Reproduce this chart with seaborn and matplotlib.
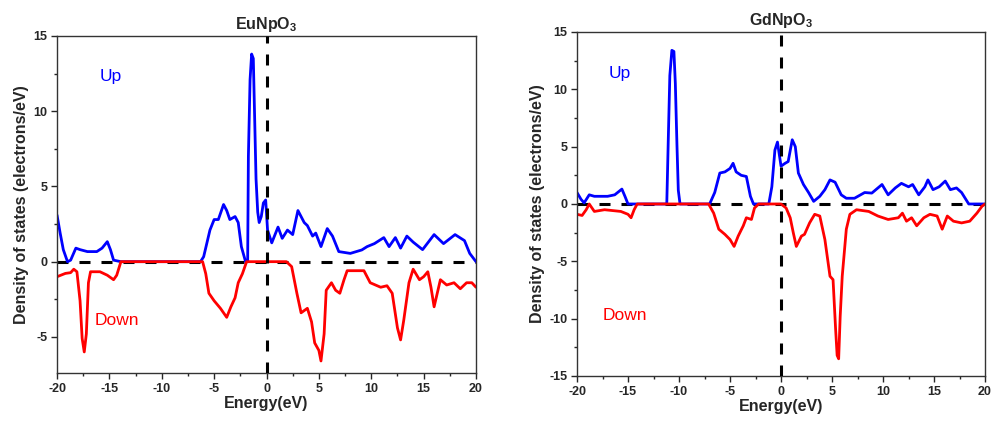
import matplotlib
matplotlib.use("Agg")
import matplotlib.pyplot as plt
import seaborn as sns
from matplotlib.ticker import MultipleLocator

# --- DATA ---
# EuNpO3, spin up
eu_up_e = [-20, -19.7, -19.4, -19.0, -18.7, -18.2, -17.8, -17.1, -16.2, -15.7, -15.2, -14.9, -14.6, -13.9,
           -6.3, -6.0, -5.4, -5.0, -4.6, -4.1, -3.8, -3.5, -3.0, -2.7, -2.4, -2.0, -1.8,
           -1.73, -1.57, -1.42, -1.26, -1.16, -1.0, -0.84, -0.7, -0.5, -0.3, -0.08, 0.1, 0.5,
           1.1, 1.5, 2.0, 2.5, 3.0, 3.6, 3.9, 4.4, 4.7, 5.2, 5.8, 6.3, 6.9, 8.0, 9.1, 9.6, 10.3,
           11.2, 11.7, 12.3, 12.8, 13.4, 14.0, 14.9, 16.0, 16.9, 18.0, 18.9, 19.4, 20.0]
eu_up = [3.1, 1.9, 0.8, 0.0, 0.1, 0.9, 0.8, 0.67, 0.67, 0.9, 1.33, 0.8, 0.1, 0.0,
         0.0, 0.33, 2.1, 2.8, 2.8, 3.8, 3.4, 2.8, 3.0, 2.6, 1.0, 0.0, 0.0,
         7.0, 12.1, 13.8, 13.5, 10.4, 5.5, 3.3, 2.6, 3.0, 3.9, 4.1, 2.1, 1.25,
         2.3, 1.55, 2.1, 1.8, 3.4, 2.6, 2.4, 1.7, 1.9, 1.0, 2.2, 1.7, 0.67, 0.55, 0.78, 1.0, 1.2,
         1.6, 1.0, 1.6, 0.9, 1.7, 1.3, 0.8, 1.8, 1.2, 1.8, 1.4, 0.55, 0.0]

# EuNpO3, spin down
eu_dn_e = [-20, -19.2, -18.7, -18.4, -18.1, -17.8, -17.6, -17.4, -17.2, -17.0, -16.8, -15.9, -15.2,
           -14.6, -14.3, -13.9, -6.1, -5.8, -5.5, -5.0, -4.4, -3.8, -3.4, -3.0, -2.7, -2.3, -1.9,
           1.9, 2.4, 2.9, 3.3, 3.9, 4.3, 4.6, 5.0, 5.2, 5.5, 5.7, 6.2, 6.6, 7.0, 7.4, 7.7, 9.3,
           9.9, 10.9, 11.5, 12.0, 12.5, 12.8, 13.1, 13.6, 14.0, 14.6, 15.0, 15.4, 15.7, 16.0,
           16.3, 16.6, 17.2, 17.9, 18.5, 19.1, 19.6, 20.0]
eu_dn = [-1.0, -0.78, -0.73, -0.5, -0.67, -2.6, -5.1, -6.0, -4.8, -1.4, -0.67, -0.67, -0.9,
         -1.2, -0.9, 0.0, 0.0, -0.8, -2.1, -2.6, -3.1, -3.7, -3.0, -2.4, -1.4, -0.8, 0.0,
         0.0, -0.33, -2.1, -3.4, -3.1, -4.0, -5.4, -5.9, -6.6, -4.8, -1.9, -1.4, -1.9, -2.1, -1.2, -0.6, -0.6,
         -1.4, -1.7, -1.6, -2.1, -4.4, -5.2, -3.9, -1.4, -0.5, -1.2, -1.0, -0.67, -1.7, -3.0,
         -2.1, -1.2, -1.55, -1.4, -1.8, -1.4, -1.4, -1.7]

# GdNpO3, spin up
gd_up_e = [-20, -19.6, -19.3, -18.8, -18.3, -17.0, -16.3, -15.6, -15.3, -15.0,
           -11.2, -11.05, -10.9, -10.7, -10.5, -10.36, -10.2, -10.07, -9.9,
           -7.0, -6.5, -6.0, -5.5, -5.0, -4.7, -4.4, -3.9, -3.4, -3.0, -2.7,
           -1.2, -0.9, -0.6, -0.35, 0.0, 0.4, 0.7, 1.1, 1.4, 1.7, 2.2, 2.7, 3.2, 3.8, 4.3, 4.8,
           5.3, 5.9, 6.4, 7.2, 8.2, 8.9, 9.9, 10.5, 11.2, 11.8, 12.5, 12.9, 13.5, 14.1, 14.4,
           14.9, 15.5, 16.1, 16.6, 17.2, 17.7, 18.4, 20.0]
gd_up = [1.0, 0.4, 0.1, 0.8, 0.67, 0.67, 0.8, 1.3, 0.67, 0.0,
         0.0, 5.7, 11.2, 13.4, 13.3, 10.5, 5.1, 1.2, 0.0,
         0.0, 1.0, 2.7, 2.8, 3.1, 3.55, 2.8, 2.5, 2.4, 0.67, 0.0,
         0.0, 1.5, 4.7, 5.4, 3.3, 3.55, 3.7, 5.6, 5.0, 2.7, 1.7, 1.0, 0.23, 0.67, 1.25, 2.1,
         1.9, 0.8, 0.5, 0.5, 1.0, 0.95, 1.7, 0.8, 1.4, 1.8, 1.5, 1.7, 0.8, 1.5, 2.1,
         1.25, 1.5, 2.0, 1.25, 1.4, 1.0, 0.0, 0.0]

# GdNpO3, spin down
gd_dn_e = [-20, -19.5, -19.1, -18.8, -18.3, -17.3, -15.7, -15.0, -14.7, -14.4, -14.1,
           -7.1, -6.6, -6.1, -5.5, -5.0, -4.6, -4.2, -3.7, -3.4, -2.9, -2.6, -2.2,
           0.0, 0.5, 0.9, 1.2, 1.5, 2.0, 2.3, 2.8, 3.3, 3.8, 4.3, 4.8, 5.1, 5.35, 5.5, 5.65,
           5.8, 6.0, 6.2, 6.4, 6.75, 7.4, 8.6, 9.5, 10.5, 11.5, 11.9, 12.3, 12.8, 13.3, 14.0,
           14.6, 15.3, 15.8, 16.3, 16.9, 17.7, 18.5, 19.2, 19.7, 20.0]
gd_dn = [-0.9, -1.0, -0.5, 0.0, -0.65, -0.5, -0.65, -0.9, -1.2, -0.5, 0.0,
         0.0, -0.8, -2.2, -2.65, -3.1, -3.7, -2.8, -1.9, -1.2, -1.35, -0.35, 0.0,
         0.0, -0.35, -1.2, -2.5, -3.7, -2.8, -2.65, -1.65, -0.9, -1.05, -3.1, -6.3, -6.6, -10.9, -13.2, -13.5,
         -9.8, -6.3, -4.25, -2.2, -0.9, -0.5, -0.65, -1.05, -1.35, -1.2, -0.8, -1.5, -1.2, -1.9, -1.2,
         -0.9, -1.05, -2.2, -1.05, -1.5, -1.65, -1.5, -0.8, -0.2, 0.0]

panels = [
    ("EuNpO", eu_up_e, eu_up, eu_dn_e, eu_dn, (-7.4, 15), (-14.9, 12.3), (-14.3, -3.9)),
    ("GdNpO", gd_up_e, gd_up, gd_dn_e, gd_dn, (-15, 15), (-15.8, 11.4), (-15.3, -9.7)),
]

sns.set_theme(style="ticks")
plt.rcParams['font.family'] = ['Liberation Sans', 'DejaVu Sans']
plt.rcParams['mathtext.default'] = 'regular'
plt.rcParams['axes.unicode_minus'] = False

fig = plt.figure(figsize=(9.95, 4.26), dpi=100)
rects = [[0.0573, 0.1244, 0.4211, 0.7911], [0.5799, 0.1174, 0.4101, 0.8075]]

for rect, (name, ue, uv, de, dv, ylim, up_pos, dn_pos) in zip(rects, panels):
    ax = fig.add_axes(rect)
    # zero line under the curves
    ax.axhline(0, color='black', lw=2.2, dashes=(3.6, 3.6), zorder=1)
    sns.lineplot(x=ue, y=uv, color='#0000ff', lw=2, ax=ax, zorder=2)
    sns.lineplot(x=de, y=dv, color='#ff0000', lw=2, ax=ax, zorder=2)
    ax.axvline(0, color='black', lw=2.2, dashes=(3.6, 3.6), zorder=3)

    ax.set_xlim(-20, 20)
    ax.set_ylim(*ylim)
    ax.xaxis.set_major_locator(MultipleLocator(5))
    ax.xaxis.set_minor_locator(MultipleLocator(2.5))
    ax.yaxis.set_major_locator(MultipleLocator(5))
    ax.yaxis.set_minor_locator(MultipleLocator(2.5))
    ax.tick_params(which='major', direction='out', length=4, width=1, labelsize=9, pad=3)
    ax.tick_params(which='minor', direction='out', length=2.5, width=1)
    for lbl in ax.get_xticklabels() + ax.get_yticklabels():
        lbl.set_fontweight('bold')
    for sp in ax.spines.values():
        sp.set_color('#333333')
        sp.set_linewidth(1)

    ax.set_xlabel('Energy(eV)', fontsize=11.5, fontweight='bold', labelpad=1)
    ax.set_ylabel('Density of states (electrons/eV)', fontsize=11.5, fontweight='bold', labelpad=3)
    ax.set_title(name + r'$_{3}$', fontsize=11.5, fontweight='bold', pad=5)

    ax.text(up_pos[0], up_pos[1], 'Up', color='#0000ff', fontsize=12.5, ha='center', va='center')
    ax.text(dn_pos[0], dn_pos[1], 'Down', color='#ff0000', fontsize=12.5, ha='center', va='center')

fig.savefig('out.png', dpi=100)
